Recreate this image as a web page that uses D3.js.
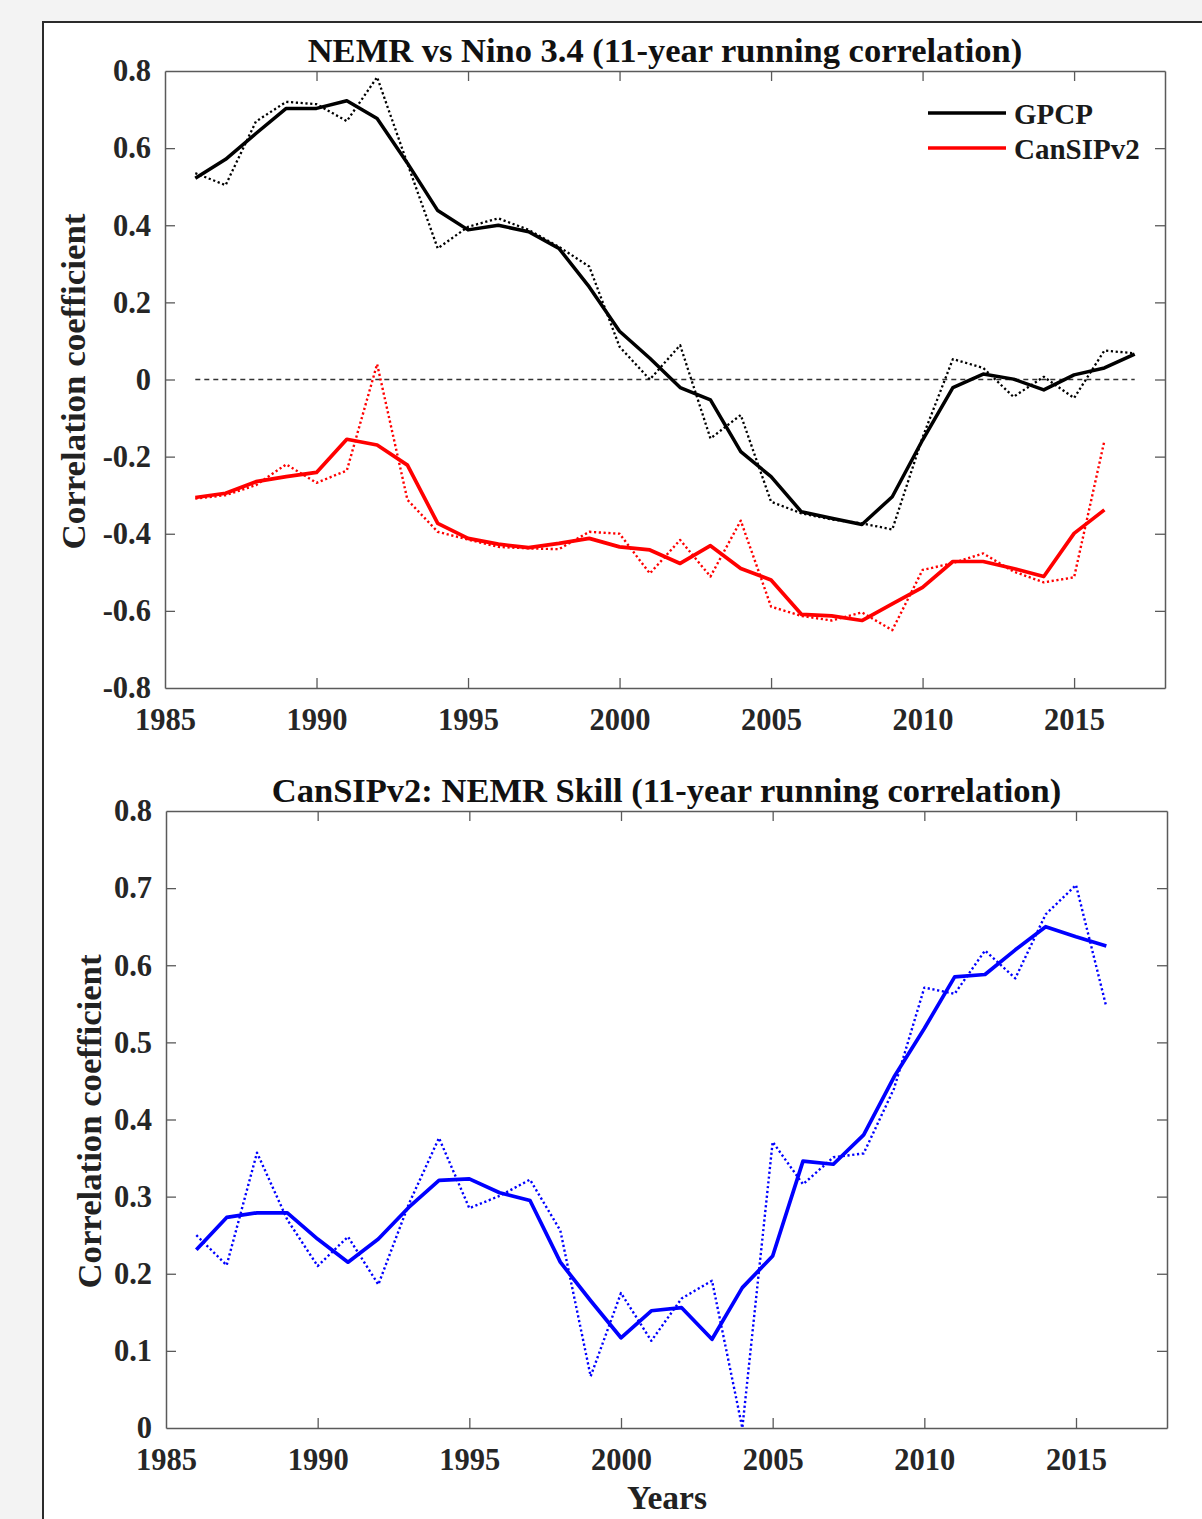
<!DOCTYPE html>
<html><head><meta charset="utf-8">
<script src="https://cdn.jsdelivr.net/npm/d3@7"></script>
<style>
html,body{margin:0;padding:0;background:#f3f3f3;}
svg{display:block;}
text{font-family:"Liberation Serif","Times New Roman",serif;font-weight:bold;fill:#262626;}
</style></head>
<body>
<svg id="c" width="1202" height="1519"></svg>
<script>
// ---------- data ----------
const yearsGPCP = [1986,1987,1988,1989,1990,1991,1992,1993,1994,1995,1996,1997,1998,1999,2000,2001,2002,2003,2004,2005,2006,2007,2008,2009,2010,2011,2012,2013,2014,2015,2016,2017];
const yearsModel = [1986,1987,1988,1989,1990,1991,1992,1993,1994,1995,1996,1997,1998,1999,2000,2001,2002,2003,2004,2005,2006,2007,2008,2009,2010,2011,2012,2013,2014,2015,2016];

const gpcpSolid = [0.522,0.571,0.638,0.703,0.703,0.723,0.677,0.561,0.438,0.388,0.400,0.383,0.340,0.240,0.125,0.055,-0.021,-0.053,-0.187,-0.252,-0.343,-0.360,-0.376,-0.304,-0.157,-0.021,0.014,0.001,-0.027,0.012,0.030,0.066];
const gpcpDotted = [0.535,0.504,0.669,0.720,0.714,0.670,0.784,0.560,0.340,0.396,0.418,0.388,0.344,0.293,0.085,0.000,0.089,-0.153,-0.092,-0.317,-0.347,-0.363,-0.373,-0.389,-0.150,0.053,0.030,-0.045,0.007,-0.048,0.075,0.068];

const canSolid = [-0.306,-0.295,-0.265,-0.252,-0.241,-0.155,-0.170,-0.222,-0.373,-0.412,-0.427,-0.436,-0.425,-0.412,-0.434,-0.442,-0.477,-0.431,-0.490,-0.520,-0.609,-0.613,-0.625,-0.582,-0.539,-0.472,-0.472,-0.490,-0.511,-0.399,-0.338];
const canDotted = [-0.309,-0.300,-0.274,-0.220,-0.268,-0.236,0.040,-0.312,-0.395,-0.415,-0.434,-0.438,-0.440,-0.395,-0.400,-0.503,-0.416,-0.511,-0.366,-0.589,-0.613,-0.625,-0.604,-0.650,-0.494,-0.476,-0.451,-0.498,-0.526,-0.513,-0.159];

const skillSolid = [0.231,0.273,0.279,0.279,0.245,0.215,0.245,0.286,0.321,0.323,0.305,0.295,0.215,0.165,0.117,0.152,0.156,0.115,0.182,0.223,0.346,0.342,0.380,0.455,0.518,0.585,0.588,0.620,0.650,0.637,0.625];
const skillDotted = [0.250,0.211,0.357,0.270,0.210,0.248,0.186,0.290,0.376,0.285,0.301,0.322,0.256,0.067,0.175,0.113,0.168,0.191,0.000,0.371,0.316,0.351,0.356,0.440,0.571,0.563,0.619,0.583,0.666,0.704,0.546];

const xTicks = [1985,1990,1995,2000,2005,2010,2015];
const xTickLabels = ["1985","1990","1995","2000","2005","2010","2015"];
const yTicksTop = [-0.8,-0.6,-0.4,-0.2,0,0.2,0.4,0.6,0.8];
const yTickLabelsTop = ["-0.8","-0.6","-0.4","-0.2","0","0.2","0.4","0.6","0.8"];
const yTicksBot = [0,0.1,0.2,0.3,0.4,0.5,0.6,0.7,0.8];
const yTickLabelsBot = ["0","0.1","0.2","0.3","0.4","0.5","0.6","0.7","0.8"];

const titleTop = "NEMR vs Nino 3.4 (11-year running correlation)";
const titleBot = "CanSIPv2: NEMR Skill (11-year running correlation)";
const yLabel = "Correlation coefficient";
const xLabel = "Years";
const legendNames = ["GPCP","CanSIPv2"];

// ---------- drawing ----------
const svg = d3.select("#c");
// outer figure frame
svg.append("rect").attr("x",43).attr("y",22).attr("width",1300).attr("height",1600)
  .attr("fill","#ffffff").attr("stroke","#2b2b2b").attr("stroke-width",2);

const AX = "#5a5a5a";
function panel(o){
  const x = d3.scaleLinear().domain([1985,2018]).range([o.left,o.right]);
  const y = d3.scaleLinear().domain(o.ydom).range([o.bottom,o.top]);
  const g = svg.append("g");
  g.append("rect").attr("x",o.left).attr("y",o.top).attr("width",o.right-o.left).attr("height",o.bottom-o.top).attr("fill","#fff");

  const fmtX = d => xTickLabels[xTicks.indexOf(d)];
  const fmtY = d => o.ylabs[o.yticks.findIndex(v=>Math.abs(v-d)<1e-9)];
  const style = (sel)=>{
    sel.select(".domain").attr("stroke",AX).attr("stroke-width",1.5);
    sel.selectAll(".tick line").attr("stroke",AX).attr("stroke-width",1.3);
    sel.selectAll(".tick text").attr("font-family","Liberation Serif").attr("font-weight","bold")
      .attr("font-size",30.5).attr("fill","#222");
  };
  g.append("g").attr("transform",`translate(0,${o.bottom})`)
    .call(d3.axisBottom(x).tickValues(xTicks).tickFormat(fmtX).tickSizeInner(-10).tickSizeOuter(0).tickPadding(20))
    .call(style);
  g.append("g").attr("transform",`translate(0,${o.top})`)
    .call(d3.axisTop(x).tickValues(xTicks).tickFormat("").tickSizeInner(-10).tickSizeOuter(0))
    .call(style);
  g.append("g").attr("transform",`translate(${o.left},0)`)
    .call(d3.axisLeft(y).tickValues(o.yticks).tickFormat(fmtY).tickSizeInner(-10).tickSizeOuter(0).tickPadding(14))
    .call(style);
  g.append("g").attr("transform",`translate(${o.right},0)`)
    .call(d3.axisRight(y).tickValues(o.yticks).tickFormat("").tickSizeInner(-10).tickSizeOuter(0))
    .call(style);
  // remove tick marks at axis ends (box corners)
  g.selectAll(".tick").filter(d=>d===1985||d===o.ydom[0]||d===o.ydom[1]).select("line").remove();

  g.append("text").attr("x",(o.left+o.right)/2).attr("y",o.titleY).attr("text-anchor","middle")
    .attr("font-size",34.5).style("fill","#111").text(o.title);
  g.append("text").attr("transform",`translate(${o.ylabX},${(o.top+o.bottom)/2+2}) rotate(-90)`)
    .attr("text-anchor","middle").attr("font-size",33).attr("textLength",o.ylabLen).attr("lengthAdjust","spacingAndGlyphs")
    .style("fill","#222").text(yLabel);
  return {x,y,g};
}

function drawLine(p, xs, ys, color, width, dash){
  const line = d3.line().x(d=>p.x(d[0])).y(d=>p.y(d[1]));
  p.g.append("path").datum(xs.map((v,i)=>[v,ys[i]]))
    .attr("d",line).attr("fill","none").attr("stroke",color).attr("stroke-width",width)
    .attr("stroke-linejoin","round")
    .attr("stroke-dasharray",dash||null);
}

// top panel
const p1 = panel({left:165,right:1165,top:71,bottom:688,ydom:[-0.8,0.8],yticks:yTicksTop,ylabs:yTickLabelsTop,
  title:titleTop,titleY:62,ylabX:85,ylabLen:336});
// zero reference line
p1.g.append("path").datum([[yearsGPCP[0],0],[yearsGPCP[yearsGPCP.length-1],0]])
  .attr("d",d3.line().x(d=>p1.x(d[0])).y(d=>p1.y(d[1])))
  .attr("stroke","#333").attr("stroke-width",1.3).attr("stroke-dasharray","5,4").attr("fill","none");
drawLine(p1, yearsGPCP, gpcpDotted, "#000", 2.3, "2.2,2.6");
drawLine(p1, yearsModel, canDotted, "#ff0000", 2.4, "2.2,2.6");
drawLine(p1, yearsGPCP, gpcpSolid, "#000", 3.5);
drawLine(p1, yearsModel, canSolid, "#ff0000", 3.7);

// legend
const legColors = ["#000","#ff0000"];
legendNames.forEach((n,i)=>{
  const yy = 113 + i*35;
  p1.g.append("line").attr("x1",928).attr("x2",1006).attr("y1",yy).attr("y2",yy)
    .attr("stroke",legColors[i]).attr("stroke-width",3.4);
  p1.g.append("text").attr("x",1014).attr("y",yy+11).attr("font-size",29).style("fill","#1a1a1a").text(n);
});

// bottom panel
const p2 = panel({left:166,right:1167,top:811,bottom:1428,ydom:[0,0.8],yticks:yTicksBot,ylabs:yTickLabelsBot,
  title:titleBot,titleY:802,ylabX:101,ylabLen:334});
drawLine(p2, yearsModel, skillDotted, "#0000ff", 2.4, "2.2,2.6");
drawLine(p2, yearsModel, skillSolid, "#0000ff", 3.7);
p2.g.append("text").attr("x",667).attr("y",1509).attr("text-anchor","middle").attr("font-size",33.5)
  .style("fill","#222").text(xLabel);
</script>
</body></html>
